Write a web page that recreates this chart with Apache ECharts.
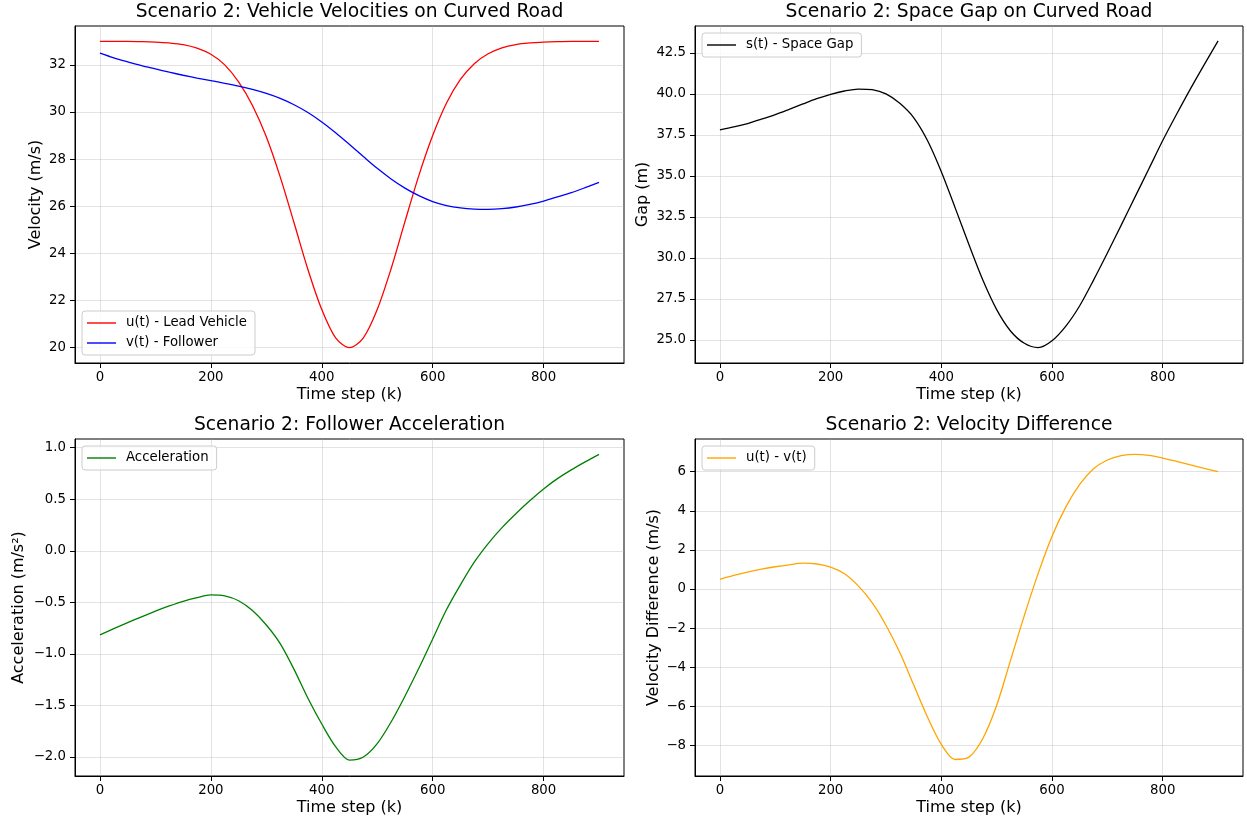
<!DOCTYPE html>
<html>
<head>
<meta charset="utf-8">
<script src="https://cdn.jsdelivr.net/npm/echarts@6/dist/echarts.min.js"></script>
<style>
  html, body { margin: 0; padding: 0; background: #ffffff; }
  #chart { width: 1247px; height: 823px; }
</style>
</head>
<body>
<div id="chart"></div>
<script>
// Time steps (k), sampled every 25 steps
const steps = [0, 25, 50, 75, 100, 125, 150, 175, 200, 225, 250, 275, 300, 325, 350, 375, 400, 425, 450,
  475, 500, 525, 550, 575, 600, 625, 650, 675, 700, 725, 750, 775, 800, 825, 850, 875, 900];

// Lead vehicle velocity u(t), m/s
const leadVelocity = [33.00, 33.00, 33.00, 32.99, 32.97, 32.93, 32.86, 32.71, 32.45, 32.00, 31.28, 30.28, 28.95,
  27.25, 25.30, 23.32, 21.62, 20.42, 20.00, 20.42, 21.62, 23.35, 25.35, 27.30, 29.00, 30.38, 31.38, 32.05,
  32.47, 32.72, 32.86, 32.93, 32.97, 32.99, 33.00, 33.00, 33.00];

// Follower velocity v(t), m/s
const followerVelocity = [32.50, 32.30, 32.13, 31.97, 31.83, 31.69, 31.56, 31.44, 31.33, 31.22, 31.10, 30.96, 30.79,
  30.58, 30.31, 29.98, 29.58, 29.12, 28.62, 28.11, 27.61, 27.16, 26.77, 26.45, 26.20, 26.03, 25.93, 25.88,
  25.87, 25.90, 25.97, 26.08, 26.22, 26.40, 26.58, 26.79, 27.01];

// Space gap s(t), m
const spaceGap = [37.80, 37.98, 38.19, 38.45, 38.73, 39.05, 39.38, 39.70, 39.97, 40.17, 40.29, 40.25, 39.99,
  39.42, 38.55, 37.15, 35.25, 33.05, 30.80, 28.65, 26.85, 25.55, 24.80, 24.54, 24.96, 25.85, 27.09, 28.65,
  30.30, 32.00, 33.72, 35.43, 37.15, 38.75, 40.30, 41.78, 43.22];

// Follower acceleration, m/s^2
const followerAccel = [-0.815, -0.755, -0.697, -0.640, -0.585, -0.535, -0.490, -0.455, -0.428, -0.438, -0.485,
  -0.580, -0.720, -0.900, -1.150, -1.430, -1.680, -1.900, -2.030, -2.000, -1.870, -1.660, -1.410, -1.140,
  -0.855, -0.570, -0.330, -0.110, 0.070, 0.225, 0.360, 0.485, 0.600, 0.700, 0.785, 0.862, 0.935];

// Velocity difference u(t) - v(t), m/s
const velocityDiff = [0.50, 0.70, 0.87, 1.02, 1.14, 1.24, 1.32, 1.28, 1.12, 0.78, 0.16, -0.70, -1.85, -3.25,
  -4.90, -6.55, -7.95, -8.72, -8.60, -7.65, -5.95, -3.65, -1.35, 0.80, 2.70, 4.20, 5.35, 6.15, 6.60, 6.82,
  6.89, 6.84, 6.70, 6.53, 6.35, 6.17, 6.00];

// Tick labels
const stepTicks = [0, 200, 400, 600, 800];
const velocityTicks = [20, 22, 24, 26, 28, 30, 32];
const gapTicks = [25, 27.5, 30, 32.5, 35, 37.5, 40, 42.5];
const accelTicks = [-2, -1.5, -1, -0.5, 0, 0.5, 1];
const diffTicks = [-8, -6, -4, -2, 0, 2, 4, 6];

const FONT = 'DejaVu Sans';
const pairs = vals => steps.map((k, i) => [k, vals[i]]);
const minus = s => String(s).replace('-', '\u2212');

const panels = [
  { title: 'Scenario 2: Vehicle Velocities on Curved Road', yName: 'Velocity (m/s)',
    left: 75, top: 26, width: 549, yMin: 19.35, yMax: 33.65, ticks: velocityTicks, digits: 0, nameGap: 31,
    legend: { left: 82, top: 311 },
    series: [
      { name: 'u(t) - Lead Vehicle', data: leadVelocity, color: '#ff0000' },
      { name: 'v(t) - Follower', data: followerVelocity, color: '#0000ff' }
    ] },
  { title: 'Scenario 2: Space Gap on Curved Road', yName: 'Gap (m)',
    left: 695, top: 26, width: 548, yMin: 23.6, yMax: 44.13, ticks: gapTicks, digits: 1, nameGap: 44,
    legend: { left: 702, top: 33 },
    series: [ { name: 's(t) - Space Gap', data: spaceGap, color: '#000000' } ] },
  { title: 'Scenario 2: Follower Acceleration', yName: 'Acceleration (m/s\u00b2)',
    left: 75, top: 439, width: 549, yMin: -2.184, yMax: 1.084, ticks: accelTicks, digits: 1, nameGap: 48,
    legend: { left: 82, top: 446 },
    series: [ { name: 'Acceleration', data: followerAccel, color: '#008000' } ] },
  { title: 'Scenario 2: Velocity Difference', yName: 'Velocity Difference (m/s)',
    left: 695, top: 439, width: 548, yMin: -9.565, yMax: 7.675, ticks: diffTicks, digits: 0, nameGap: 33,
    legend: { left: 702, top: 446 },
    series: [ { name: 'u(t) - v(t)', data: velocityDiff, color: '#ffa500' } ] }
];

const HEIGHT = 337;
const gridLine = { show: true, lineStyle: { color: '#b0b0b0', opacity: 0.35, width: 1 } };
const tickStyle = { show: true, length: 5, inside: false, lineStyle: { color: '#000', width: 1 } };
const axisLine = { show: true, onZero: false, lineStyle: { color: '#000', width: 1 } };

const option = {
  animation: false,
  backgroundColor: '#ffffff',
  textStyle: { fontFamily: FONT },
  title: panels.map(p => ({
    text: p.title, left: p.left + p.width / 2, top: p.top - 23, textAlign: 'center', padding: 0,
    textStyle: { fontFamily: FONT, fontSize: 18.7, fontWeight: 'normal', color: '#000' }
  })),
  grid: panels.map(p => ({
    left: p.left, top: p.top, width: p.width, height: HEIGHT, containLabel: false,
    show: true, borderColor: '#000', borderWidth: 1, backgroundColor: 'transparent'
  })),
  xAxis: panels.map((p, i) => ({
    type: 'value', gridIndex: i, min: -45, max: 945, position: 'bottom',
    name: 'Time step (k)', nameLocation: 'middle', nameGap: 24,
    nameTextStyle: { fontFamily: FONT, fontSize: 16, color: '#000' },
    axisLine: axisLine,
    axisTick: Object.assign({ customValues: stepTicks }, tickStyle),
    axisLabel: { customValues: stepTicks, margin: 8, fontFamily: FONT, fontSize: 13.3, color: '#000',
      formatter: v => minus(v) },
    splitLine: gridLine
  })),
  yAxis: panels.map((p, i) => ({
    type: 'value', gridIndex: i, min: p.yMin, max: p.yMax, position: 'left',
    name: p.yName, nameLocation: 'middle', nameGap: p.nameGap,
    nameTextStyle: { fontFamily: FONT, fontSize: 16, color: '#000' },
    axisLine: axisLine,
    axisTick: Object.assign({ customValues: p.ticks }, tickStyle),
    axisLabel: { customValues: p.ticks, margin: 9, fontFamily: FONT, fontSize: 13.3, color: '#000',
      formatter: v => minus(Number(v).toFixed(p.digits)) },
    splitLine: gridLine
  })),
  legend: panels.map(p => ({
    data: p.series.map(s => s.name),
    orient: 'vertical', left: p.legend.left, top: p.legend.top,
    backgroundColor: 'rgba(255,255,255,0.8)', borderColor: '#cccccc', borderWidth: 1, borderRadius: 3,
    padding: [5, 8, 5, 5], itemWidth: 29, itemHeight: 1.4, itemGap: 6, icon: 'rect',
    selectedMode: false,
    textStyle: { fontFamily: FONT, fontSize: 13.3, color: '#000', lineHeight: 14, padding: [0, 0, 0, 5] }
  })),
  series: panels.flatMap((p, i) => p.series.map(s => ({
    type: 'line', name: s.name, xAxisIndex: i, yAxisIndex: i,
    data: pairs(s.data), symbol: 'none', showSymbol: false, smooth: 0.3,
    lineStyle: { color: s.color, width: 1.3 }, itemStyle: { color: s.color }
  })))
};

const chart = echarts.init(document.getElementById('chart'), null, { renderer: 'canvas' });
chart.setOption(option);
</script>
</body>
</html>
